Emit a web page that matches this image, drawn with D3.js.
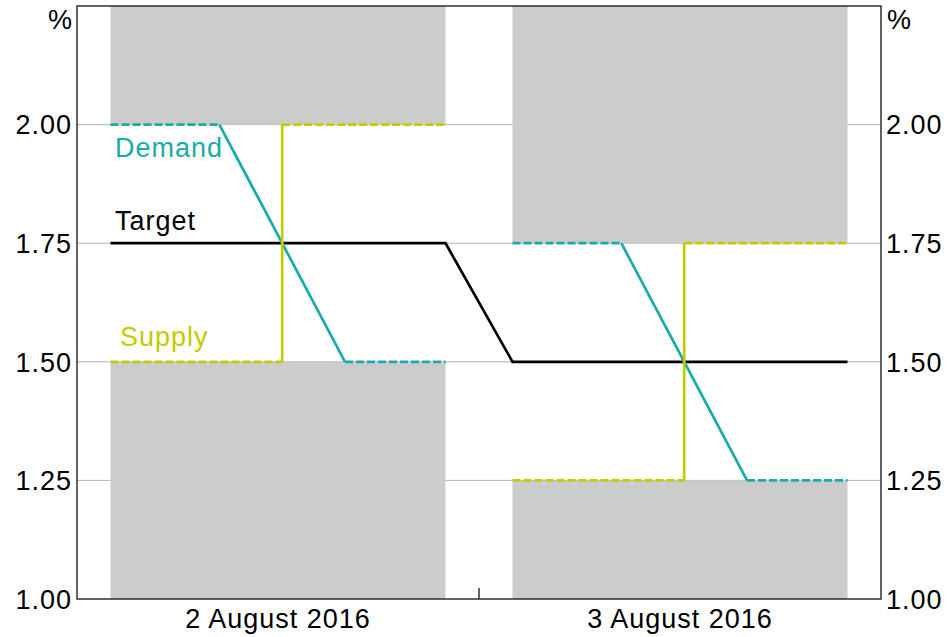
<!DOCTYPE html>
<html>
<head>
<meta charset="utf-8">
<script src="https://cdn.jsdelivr.net/npm/d3@7"></script>
<style>
  html, body { margin: 0; padding: 0; background: #fff; }
  svg { display: block; font-family: "Liberation Sans", Arial, sans-serif; }
</style>
</head>
<body>
<svg id="chart" width="947" height="637"></svg>
<script>
// ---- Data ----
const dayLabels = ["2 August 2016", "3 August 2016"];
const dayCentres = [12, 36];          // hours
const dayBoundaryTicks = [24];        // hours
const yTicks = [1.00, 1.25, 1.50, 1.75, 2.00];

// shaded corridor blocks (hours / %)
const blockStart = [2, 26];
const blockEnd = [22, 46];
const upperBlockFrom = [2.00, 1.75];
const lowerBlockTo = [1.50, 1.25];

// target cash rate
const targetHours = [2, 22, 26, 46];
const targetRates = [1.75, 1.75, 1.50, 1.50];

// demand curves (dashed, solid, dashed segments)
const demandHours = [[2, 8.5, 16, 22], [26, 32.5, 40, 46]];
const demandRates = [[2.00, 2.00, 1.50, 1.50], [1.75, 1.75, 1.25, 1.25]];

// supply curves
const supplyHours = [[2, 12.25, 12.25, 22], [26, 36.25, 36.25, 46]];
const supplyRates = [[1.50, 1.50, 2.00, 2.00], [1.25, 1.25, 1.75, 1.75]];

const segStyle = ["dash", "solid", "dash"];

// ---- Layout ----
const W = 947, H = 637;
const m = { left: 77, right: 66, top: 6, bottom: 38 };
const svg = d3.select("#chart");
const x = d3.scaleLinear().domain([0, 48]).range([m.left, W - m.right]);
const y = d3.scaleLinear().domain([1.00, 2.25]).range([H - m.bottom, m.top]);

const demandColor = "#17abab";
const supplyColor = "#c3cb00";
const fontSize = 27;
const ls = "1px";

// gridlines
svg.append("g").selectAll("line").data(yTicks.filter(d => d > 1))
  .join("line")
  .attr("x1", x(0)).attr("x2", x(48))
  .attr("y1", d => y(d)).attr("y2", d => y(d))
  .attr("stroke", "#b3b3b3").attr("stroke-width", 1);

// shaded blocks
const blocks = svg.append("g");
blockStart.forEach((s, i) => {
  blocks.append("rect")
    .attr("x", x(s)).attr("width", x(blockEnd[i]) - x(s))
    .attr("y", y(2.25)).attr("height", y(upperBlockFrom[i]) - y(2.25))
    .attr("fill", "#cccccc");
  blocks.append("rect")
    .attr("x", x(s)).attr("width", x(blockEnd[i]) - x(s))
    .attr("y", y(lowerBlockTo[i])).attr("height", y(1.00) - y(lowerBlockTo[i]))
    .attr("fill", "#cccccc");
});

// frame
svg.append("rect")
  .attr("x", x(0)).attr("y", y(2.25))
  .attr("width", x(48) - x(0)).attr("height", y(1.00) - y(2.25))
  .attr("fill", "none").attr("stroke", "#222").attr("stroke-width", 1.4);

// x boundary tick (inside)
svg.append("g").selectAll("line").data(dayBoundaryTicks).join("line")
  .attr("x1", d => x(d)).attr("x2", d => x(d))
  .attr("y1", y(1.00)).attr("y2", y(1.00) - 11)
  .attr("stroke", "#222").attr("stroke-width", 1.4);

const line = d3.line().x(d => x(d[0])).y(d => y(d[1]));

function drawCurve(hours, rates, color) {
  for (let k = 0; k < hours.length - 1; k++) {
    const p = svg.append("path")
      .attr("d", line([[hours[k], rates[k]], [hours[k + 1], rates[k + 1]]]))
      .attr("fill", "none").attr("stroke", color).attr("stroke-width", 2.7);
    if (segStyle[k] === "dash") p.attr("stroke-dasharray", "8,3");
  }
}

// target
svg.append("path")
  .attr("d", line(targetHours.map((h, i) => [h, targetRates[i]])))
  .attr("fill", "none").attr("stroke", "#000").attr("stroke-width", 2.7);

demandHours.forEach((h, i) => drawCurve(h, demandRates[i], demandColor));
supplyHours.forEach((h, i) => drawCurve(h, supplyRates[i], supplyColor));

// y tick labels (both sides)
const fmt = d3.format(".2f");
svg.append("g").selectAll("text").data(yTicks).join("text")
  .attr("x", x(0) - 5).attr("y", d => y(d)).attr("dy", "0.36em")
  .attr("text-anchor", "end").attr("font-size", fontSize).attr("fill", "#000")
  .attr("letter-spacing", ls)
  .text(d => fmt(d));
svg.append("g").selectAll("text").data(yTicks).join("text")
  .attr("x", x(48) + 5).attr("y", d => y(d)).attr("dy", "0.36em")
  .attr("text-anchor", "start").attr("font-size", fontSize).attr("fill", "#000")
  .attr("letter-spacing", ls)
  .text(d => fmt(d));

// % units
svg.append("text").attr("x", x(0) - 5).attr("y", 29).attr("text-anchor", "end")
  .attr("font-size", fontSize).text("%");
svg.append("text").attr("x", x(48) + 6).attr("y", 29).attr("text-anchor", "start")
  .attr("font-size", fontSize).text("%");

// x labels
svg.append("g").selectAll("text").data(dayLabels).join("text")
  .attr("x", (d, i) => x(dayCentres[i])).attr("y", 628)
  .attr("text-anchor", "middle").attr("font-size", fontSize)
  .attr("letter-spacing", ls).text(d => d);

// series labels
svg.append("text").attr("x", 115).attr("y", 157).attr("font-size", fontSize)
  .attr("letter-spacing", ls).attr("fill", demandColor).text("Demand");
svg.append("text").attr("x", 115).attr("y", 230).attr("font-size", fontSize)
  .attr("letter-spacing", ls).attr("fill", "#000").text("Target");
svg.append("text").attr("x", 120).attr("y", 346).attr("font-size", fontSize)
  .attr("letter-spacing", ls).attr("fill", supplyColor).text("Supply");
</script>
</body>
</html>
